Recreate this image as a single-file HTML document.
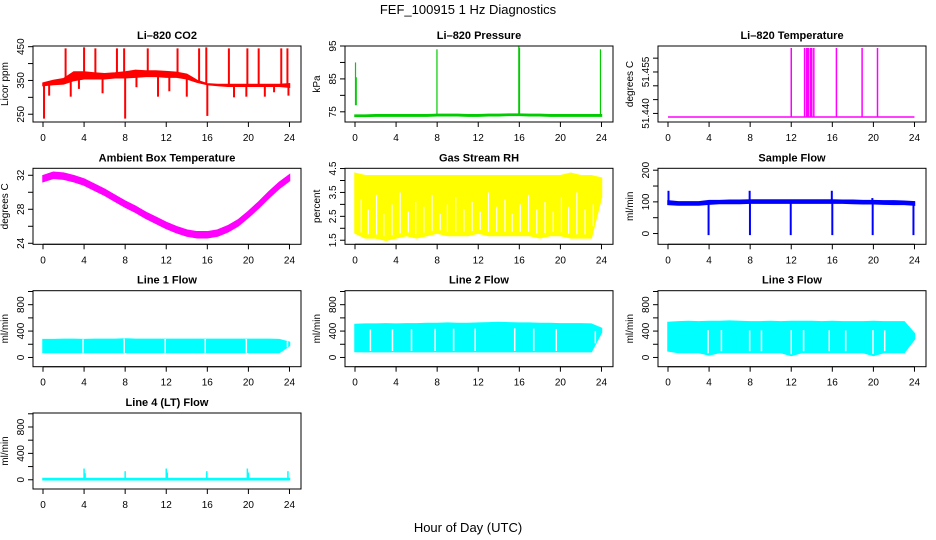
<!DOCTYPE html>
<html><head><meta charset="utf-8">
<style>
html,body{margin:0;padding:0;background:#fff;}
svg{display:block;font-family:"Liberation Sans",sans-serif;}
</style></head>
<body>
<svg id="chart" width="936" height="540" viewBox="0 0 936 540" xmlns="http://www.w3.org/2000/svg">
<rect width="936" height="540" fill="#fff"/>
<text x="468" y="14" text-anchor="middle" font-size="13">FEF_100915  1 Hz Diagnostics</text>
<text x="468" y="532" text-anchor="middle" font-size="13">Hour of Day (UTC)</text>
</svg>
<script>
// ---------- data ----------
const hours = [0,1,2,3,4,5,6,7,8,9,10,11,12,13,14,15,16,17,18,19,20,21,22,23,24];
const xTicks = [0,4,8,12,16,20,24];

const co2Lo = [335,338,340,350,355,355,355,358,358,360,362,362,360,360,355,345,338,335,333,333,333,333,333,333,330];
const co2Hi = [342,350,355,375,375,372,370,372,375,380,378,378,376,374,368,350,340,338,338,338,338,338,338,338,340];
const co2SpikeH = [2.2,4.0,5.1,7.2,7.9,10.2,13.1,15.2,15.9,18.1,19.9,21.0,23.2,23.8,0.1,8.0,16.0,2.7,5.8,0.6,11.2,14.0,18.6,19.8,21.6,22.5,3.5,9.1,12.3,23.9];
const co2SpikeV = [445,448,445,445,445,445,445,445,448,445,445,445,445,445,237,237,245,302,312,305,302,302,300,302,302,315,325,330,318,305];

const presBase = [73.8,73.8,73.9,73.9,73.9,73.9,73.9,73.9,74.0,74.0,74.0,73.9,73.9,74.0,74.0,74.1,74.1,74.0,74.0,73.9,73.9,73.9,73.9,73.9,73.9];
const presSpikeH = [0.05,0.12,7.98,15.95,16.02,23.9];
const presSpikeLo = [77,77,74,74,74,74];
const presSpikeHi = [90,85.5,94,95,94.5,94];

const tempBase = [51.4387];
const tempSpikeH = [12.0,13.3,13.5,13.6,13.7,13.9,14.0,14.2,16.4,18.9,20.4];
const tempSpikeV = [51.4637,51.4637,51.4637,51.4637,51.4637,51.4637,51.4637,51.4637,51.4637,51.4637,51.4637];

const ambMid = [31.6,32.0,31.9,31.6,31.2,30.6,30.0,29.3,28.6,28.0,27.3,26.7,26.1,25.6,25.2,25.0,25.0,25.2,25.7,26.4,27.4,28.5,29.7,30.8,31.7];
const ambHalf = [0.35];

const rhHi = [4.3,4.2,4.2,4.2,4.2,4.2,4.2,4.2,4.2,4.2,4.2,4.2,4.2,4.2,4.2,4.2,4.2,4.2,4.2,4.2,4.2,4.3,4.2,4.2,4.1];
const rhLo = [1.8,1.6,1.6,1.5,1.6,1.7,1.6,1.7,1.8,1.7,1.7,1.7,1.8,1.7,1.7,1.7,1.7,1.7,1.6,1.7,1.7,1.6,1.6,1.6,3.3];
const rhGapH = [0.6,1.3,2.1,2.8,3.6,4.4,5.2,5.9,6.7,7.5,8.3,9.0,9.8,10.6,11.4,12.2,13.0,13.8,14.6,15.3,16.1,16.9,17.7,18.5,19.3,20.1,20.8,21.6,22.4,23.2];
const rhGapTop = [3.2,2.8,3.4,2.6,3.0,3.5,2.7,3.1,2.9,3.4,2.6,3.0,3.3,2.8,3.1,2.7,3.5,2.9,3.2,2.6,3.0,3.4,2.8,3.1,2.7,3.3,2.9,3.5,2.8,3.0];

const sfLo = [92,90,90,90,93,95,95,95,96,96,96,96,96,96,96,96,96,96,95,94,94,93,92,92,90];
const sfHi = [103,100,100,100,104,104,105,105,106,106,106,106,106,106,106,106,106,105,105,104,104,103,103,102,100];
const sfSpikeH = [0.05,7.95,15.95,19.9,3.95,7.98,11.95,16.0,19.93,23.9];
const sfSpikeV = [135,135,135,112,-5,-5,-5,-5,-5,-5];

const l1Lo = [75,75,75,75,75,75,75,75,75,75,75,75,75,75,75,75,75,75,75,75,75,75,75,75,180];
const l1Hi = [270,270,275,275,270,275,275,275,280,275,275,275,275,275,275,275,275,275,275,275,275,275,275,270,230];
const l1Gap = [3.9,7.9,11.9,15.8,19.8,23.8];

const l2Lo = [90,88,88,88,88,88,88,88,88,88,88,88,88,88,88,88,88,88,88,88,88,88,88,88,380];
const l2Hi = [500,505,505,510,505,510,510,515,515,520,515,515,520,525,530,525,520,520,515,515,510,510,510,505,440];
const l2Gap = [1.5,3.65,5.5,7.8,9.6,11.7,15.55,17.4,19.6,23.4];

const l3Lo = [100,75,75,75,40,75,75,75,75,75,75,75,30,75,75,75,75,75,75,75,30,75,75,75,280];
const l3Hi = [530,540,545,540,545,545,550,545,540,540,545,540,545,545,545,540,545,540,540,540,545,540,540,540,360];
const l3Gap = [3.9,5.2,7.95,9.1,12.0,13.2,15.7,17.3,19.96,21.1];

const l4Lo = [0];
const l4Hi = [20];
const l4SpikeH = [4.0,4.1,8.0,12.0,12.1,15.95,19.9,20.0,23.85];
const l4SpikeV = [170,100,130,170,110,130,170,110,130];

// ---------- layout ----------
const NS='http://www.w3.org/2000/svg';
const svg=document.getElementById('chart');
const colX0=[43,355,668];
const rowTop=[46,168.3,290.7,413];
const BOXH=76, PXH=10.27;
function mk(tag,attrs,parent){const e=document.createElementNS(NS,tag);for(const k in attrs)e.setAttribute(k,attrs[k]);(parent||svg).appendChild(e);return e;}

function panel(key,title,ylab,col,row,dom,ticks,labels,draw){
  const g=mk('g',{});
  
  
  const x0=colX0[col], bl=x0-10, bw=268, bt=rowTop[row], bb=bt+BOXH;
  const X=h=>x0+h*PXH;
  const Y=v=>bb-(v-dom[0])/(dom[1]-dom[0])*BOXH;
  const series=mk('g',{},g);
  
  
  draw(series,X,Y,bb,bt);
  const box=mk('rect',{x:bl,y:bt,width:bw,height:BOXH,fill:'none',stroke:'#000','stroke-width':1},g);
  
  
  const t=mk('text',{x:bl+bw/2,y:bt-7,'text-anchor':'middle','font-size':11,'font-weight':'bold'},g);
  t.textContent=title;
  
  
  const xa=mk('g',{},g);
  
  
  mk('line',{x1:X(0),x2:X(24),y1:bb,y2:bb,stroke:'#000'},xa);
  xTicks.forEach(h=>{
    mk('line',{x1:X(h),x2:X(h),y1:bb,y2:bb+5,stroke:'#000'},xa);
    const tl=mk('text',{x:X(h),y:bb+19,'text-anchor':'middle','font-size':10},xa);
    tl.textContent=h;
  });
  const ya=mk('g',{},g);
  
  
  ticks.forEach(v=>{mk('line',{x1:bl-5,x2:bl,y1:Y(v),y2:Y(v),stroke:'#000'},ya);});
  labels.forEach(v=>{
    const yy=Y(parseFloat(v));
    const tl=mk('text',{x:bl-9,y:yy,'text-anchor':'middle','font-size':10,transform:`rotate(-90 ${bl-9} ${yy})`},ya);
    tl.textContent=v;
  });
  const yl=mk('text',{x:bl-25,y:(bt+bb)/2,'text-anchor':'middle','font-size':10,transform:`rotate(-90 ${bl-25} ${(bt+bb)/2})`},g);
  yl.textContent=ylab;
  
  
}
function band(g,X,Y,xs,lo,hi,color){
  let p=xs.map((h,i)=>X(h)+','+Y(hi[i]));
  for(let i=xs.length-1;i>=0;i--)p.push(X(xs[i])+','+Y(lo[i]));
  const e=mk('polygon',{points:p.join(' '),fill:color,stroke:color,'stroke-width':1.5},g);
  
  
}
function vline(g,X,Y,h,a,b,color,w){
  const e=mk('line',{x1:X(h),x2:X(h),y1:Y(a),y2:Y(b),stroke:color,'stroke-width':w||1.5},g);
  
  
}
function interp(arr,h){const i=Math.min(23,Math.floor(h));const f=h-i;return arr[i]*(1-f)+arr[i+1]*f;}

panel('co2','Li\u2013820 CO2','Licor ppm',0,0,[227,452],[250,300,350,400,450],['250','350','450'],(g,X,Y)=>{
  band(g,X,Y,hours,co2Lo,co2Hi,'#ff0000');
  co2SpikeH.forEach((h,i)=>vline(g,X,Y,h,interp(co2Lo,h)+3,co2SpikeV[i],'#ff0000',2));
});
panel('pressure','Li\u2013820 Pressure','kPa',1,0,[71.9,95],[75,80,85,90,95],['75','85','95'],(g,X,Y)=>{
  band(g,X,Y,hours,presBase.map(v=>v-0.2),presBase.map(v=>v+0.2),'#00cc00');
  presSpikeH.forEach((h,i)=>vline(g,X,Y,h,presSpikeLo[i],presSpikeHi[i],'#00cc00',1.2));
});
panel('temperature','Li\u2013820 Temperature','degrees C',2,0,[51.4369,51.4644],[51.44,51.445,51.45,51.455,51.46],['51.440','51.455'],(g,X,Y)=>{
  const e=mk('line',{x1:X(0),x2:X(24),y1:Y(tempBase[0]),y2:Y(tempBase[0]),stroke:'#ff00ff','stroke-width':1.5},g);
  
  
  tempSpikeH.forEach((h,i)=>vline(g,X,Y,h,tempBase[0],tempSpikeV[i],'#ff00ff',1.5));
});
panel('ambient','Ambient Box Temperature','degrees C',0,1,[23.88,32.82],[24,26,28,30,32],['24','28','32'],(g,X,Y)=>{
  band(g,X,Y,hours,ambMid.map(v=>v-ambHalf[0]),ambMid.map(v=>v+ambHalf[0]),'#ff00ff');
});
panel('rh','Gas Stream RH','percent',1,1,[1.33,4.51],[1.5,2,2.5,3,3.5,4,4.5],['1.5','2.5','3.5','4.5'],(g,X,Y)=>{
  band(g,X,Y,hours,rhLo,rhHi,'#ffff00');
  rhGapH.forEach((h,i)=>vline(g,X,Y,h,interp(rhLo,h)+0.15,rhGapTop[i],'#ffffff',1.2));
});
panel('sample-flow','Sample Flow','ml/min',2,1,[-34,206],[0,50,100,150,200],['0','100','200'],(g,X,Y)=>{
  band(g,X,Y,hours,sfLo,sfHi,'#0000ff');
  sfSpikeH.forEach((h,i)=>vline(g,X,Y,h,interp(sfLo,h),sfSpikeV[i],'#0000ff',2));
});
const flowTicks=[0,200,400,600,800,1000], flowLabels=['0','400','800'], flowDom=[-140,1012];
panel('line1-flow','Line 1 Flow','ml/min',0,2,flowDom,flowTicks,flowLabels,(g,X,Y)=>{
  band(g,X,Y,hours,l1Lo,l1Hi,'#00ffff');
  l1Gap.forEach(h=>vline(g,X,Y,h,interp(l1Lo,h)-5,interp(l1Hi,h)+5,'#ffffff',1.5));
});
panel('line2-flow','Line 2 Flow','ml/min',1,2,flowDom,flowTicks,flowLabels,(g,X,Y)=>{
  band(g,X,Y,hours,l2Lo,l2Hi,'#00ffff');
  l2Gap.forEach(h=>vline(g,X,Y,h,interp(l2Lo,h)+10,interp(l2Hi,h)-80,'#ffffff',1.5));
});
panel('line3-flow','Line 3 Flow','ml/min',2,2,flowDom,flowTicks,flowLabels,(g,X,Y)=>{
  band(g,X,Y,hours,l3Lo,l3Hi,'#00ffff');
  l3Gap.forEach(h=>vline(g,X,Y,h,interp(l3Lo,h)+20,interp(l3Hi,h)-130,'#ffffff',1.5));
});
panel('line4-flow','Line 4 (LT) Flow','ml/min',0,3,flowDom,flowTicks,flowLabels,(g,X,Y)=>{
  band(g,X,Y,[0,24],[l4Lo[0],l4Lo[0]],[l4Hi[0],l4Hi[0]],'#00ffff');
  l4SpikeH.forEach((h,i)=>vline(g,X,Y,h,l4Hi[0],l4SpikeV[i],'#00ffff',1.5));
});
</script>
</body></html>
